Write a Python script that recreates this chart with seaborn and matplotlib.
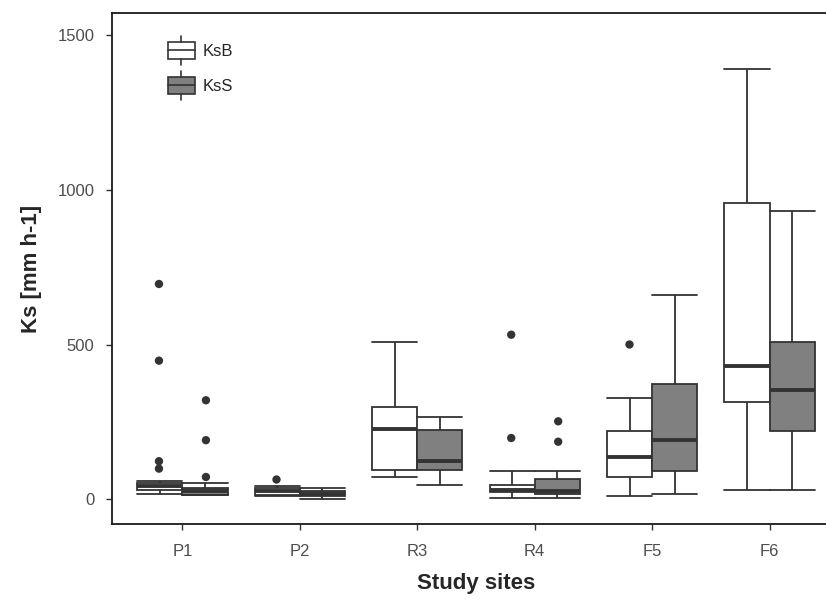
import numpy as np
import pandas as pd
import seaborn as sns
import matplotlib.pyplot as plt
from matplotlib.patches import Rectangle
from matplotlib.lines import Line2D
from matplotlib.legend_handler import HandlerBase

sns.set_style("white")
plt.rcParams['font.family'] = ['Liberation Sans', 'DejaVu Sans']

# five-number summaries (whisker ends, quartiles, median)
sites = ["P1", "P2", "R3", "R4", "F5", "F6"]
ksb_low = [17, 11, 71, 5, 11, 29]
ksb_q1 = [31, 15, 96, 24, 71, 313]
ksb_med = [43, 26, 227, 30, 135, 432]
ksb_q3 = [54, 35, 297, 45, 222, 958]
ksb_high = [60, 43, 509, 91, 326, 1392]

kss_low = [13, 0, 47, 5, 16, 29]
kss_q1 = [13, 9, 96, 16, 90, 221]
kss_med = [26, 17, 123, 26, 190, 354]
kss_q3 = [38, 27, 223, 65, 373, 509]
kss_high = [54, 37, 266, 91, 660, 932]

# outliers
out_site = ["P1", "P1", "P1", "P1", "P1", "P1", "P1", "P2", "R4", "R4", "R4", "R4", "F5"]
out_type = ["KsB", "KsB", "KsB", "KsB", "KsS", "KsS", "KsS", "KsB", "KsB", "KsB", "KsS", "KsS", "KsB"]
out_value = [696, 448, 123, 99, 320, 191, 72, 67, 532, 198, 252, 186, 502]

types = ["KsB", "KsS"]
LINE = "#333333"
FILL = {"KsB": "#ffffff", "KsS": "#808080"}

rows = []
for i, s in enumerate(sites):
    for t, st in (("KsB", (ksb_low, ksb_q1, ksb_med, ksb_q3, ksb_high)),
                  ("KsS", (kss_low, kss_q1, kss_med, kss_q3, kss_high))):
        for arr in st:
            rows.append({"site": s, "type": t, "Ks": arr[i]})
df = pd.DataFrame(rows)
outs = pd.DataFrame({"site": out_site, "type": out_type, "Ks": out_value})

fig = plt.figure(figsize=(8.26, 6.01), dpi=100)
ax = fig.add_axes([112 / 826, 1 - 524 / 601, 728 / 826, 511 / 601])

sns.boxplot(data=df, x="site", y="Ks", hue="type", order=sites, hue_order=types,
            palette=FILL, width=0.77, whis=np.inf, linecolor=LINE, linewidth=1.3,
            capwidths=0.385, saturation=1,
            medianprops=dict(linewidth=2.8, color=LINE),
            legend=False, ax=ax)
sns.stripplot(data=outs, x="site", y="Ks", hue="type", order=sites, hue_order=types,
              palette={"KsB": LINE, "KsS": LINE}, dodge=True, jitter=False,
              size=6, linewidth=0, legend=False, ax=ax)

ax.set_xlim(-0.6, 5.6)
ax.set_ylim(-80, 1572)
ax.set_yticks([0, 500, 1000, 1500])
for sp in ["left", "bottom", "top"]:
    ax.spines[sp].set_visible(True)
    ax.spines[sp].set_color("#1a1a1a")
    ax.spines[sp].set_linewidth(1.3)
ax.spines["right"].set_visible(False)
ax.tick_params(axis="both", which="major", length=4, width=1.0, color="#333333",
               labelsize=12, labelcolor="#4d4d4d", direction="out", bottom=True, left=True)
ax.tick_params(axis="x", pad=10.5)
ax.tick_params(axis="y", pad=8.5)
ax.set_xlabel("Study sites", fontsize=16, fontweight="bold", labelpad=10)
ax.set_ylabel("Ks [mm h-1]", fontsize=16, fontweight="bold", labelpad=11.5)


class BoxGlyph(HandlerBase):
    def create_artists(self, legend, orig, xd, yd, w, h, fontsize, trans):
        x0, y0 = -xd, -yd
        fc = orig.get_facecolor()
        b0, bh = y0 + h * 0.21, h * 0.58
        box = Rectangle((x0, b0), w, bh, facecolor=fc, edgecolor=LINE, lw=1.2, transform=trans)
        med = Line2D([x0, x0 + w], [b0 + bh / 2] * 2, color=LINE, lw=1.2, transform=trans)
        lo = Line2D([x0 + w / 2] * 2, [y0, b0], color=LINE, lw=1.2, transform=trans)
        hi = Line2D([x0 + w / 2] * 2, [b0 + bh, y0 + h], color=LINE, lw=1.2, transform=trans)
        return [box, med, lo, hi]


handles = [Rectangle((0, 0), 1, 1, facecolor=FILL[t]) for t in types]
ax.legend(handles, types, handler_map={Rectangle: BoxGlyph()},
          loc="upper left", bbox_to_anchor=(168 / 826, 1 - 36 / 601), bbox_transform=fig.transFigure,
          frameon=False, borderpad=0, borderaxespad=0, fontsize=12,
          handlelength=1.6, handleheight=2.3, labelspacing=0.36, handletextpad=0.5)

fig.savefig("out.png", dpi=100)
